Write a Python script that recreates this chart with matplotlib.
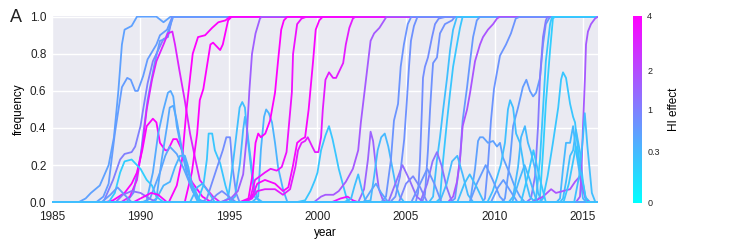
import numpy as np
import matplotlib
matplotlib.use("Agg")
import matplotlib.pyplot as plt
from matplotlib.colors import PowerNorm
from matplotlib.cm import ScalarMappable

plt.rcParams['font.family'] = ['Liberation Sans', 'DejaVu Sans']

# HI effect of each trajectory (colour)
hi_effect = [
    0.55, 0.6, 1.0, 0.6, 3.0, 4.0, 4.0, 4.0, 0.15, 0.45,
    0.45, 0.5, 0.35, 0.2, 0.8, 0.25, 0.3, 0.35, 1.6, 4.0,
    3.5, 3.8, 3.2, 0.2, 1.7, 3.5, 1.5, 0.3, 0.25, 0.7,
    0.75, 0.8, 0.75, 0.25, 0.2, 0.65, 1.8, 0.7, 0.55, 0.6,
    1.1, 0.2, 0.15, 0.25, 0.2, 0.3, 0.3, 0.25, 1.7, 1.8,
    # small bumps
    0.6, 1.2, 3.8, 0.3, 0.8, 1.3, 0.9, 1.2, 0.3, 0.7,
    0.6, 0.25, 0.6, 0.3, 0.2, 0.5, 0.2, 0.25,
]

# (year, frequency) points
trajectories = [
    [(1985, 0), (1986.5, 0), (1986.9, 0.02), (1987.2, 0.05), (1987.7, 0.09), (1988.2, 0.2), (1988.5, 0.35),
     (1988.75, 0.6), (1988.95, 0.85), (1989.1, 0.93), (1989.5, 0.95), (1989.8, 1.0), (1990.9, 1.0),
     (1991.3, 0.97), (1991.7, 1.0), (2016, 1.0)],
    [(1985, 0), (1987.5, 0), (1987.9, 0.03), (1988.2, 0.1), (1988.55, 0.37), (1988.95, 0.62), (1989.25, 0.67),
     (1989.45, 0.66), (1989.7, 0.6), (1989.85, 0.6), (1990.15, 0.68), (1990.4, 0.77), (1990.9, 0.85),
     (1991.1, 0.9), (1991.5, 0.93), (1991.8, 1.0), (2016, 1)],
    [(1985, 0), (1987.9, 0), (1988.45, 0.12), (1988.85, 0.23), (1989.1, 0.26), (1989.5, 0.27), (1989.7, 0.3),
     (1990.0, 0.41), (1990.15, 0.5), (1990.4, 0.64), (1990.7, 0.76), (1991.0, 0.82), (1991.3, 0.88),
     (1991.55, 0.89), (1991.8, 1.0), (2016, 1)],
    [(1985, 0), (1989.2, 0), (1989.6, 0.05), (1990.0, 0.25), (1990.4, 0.55), (1990.8, 0.75), (1991.1, 0.87),
     (1991.4, 0.88), (1991.6, 0.93), (1991.85, 1.0), (2016, 1)],
    [(1985, 0), (1988.9, 0), (1989.4, 0.03), (1989.8, 0.12), (1990.1, 0.3), (1990.35, 0.5), (1990.65, 0.66),
     (1990.9, 0.76), (1991.3, 0.85), (1991.55, 0.91), (1991.8, 0.92), (1991.95, 0.85), (1992.2, 0.71),
     (1992.5, 0.55), (1992.8, 0.37), (1993.1, 0.23), (1993.35, 0.12), (1993.75, 0.07), (1994.1, 0.03),
     (1994.5, 0), (2016, 0)],
    [(1985, 0), (1988.0, 0), (1988.45, 0.01), (1989.1, 0.05), (1989.5, 0.1), (1989.8, 0.16), (1990.1, 0.28),
     (1990.35, 0.41), (1990.7, 0.45), (1990.9, 0.43), (1991.1, 0.32), (1991.4, 0.28), (1991.55, 0.28),
     (1991.85, 0.34), (1992.05, 0.34), (1992.35, 0.28), (1992.6, 0.19), (1992.9, 0.11), (1993.2, 0.07),
     (1993.5, 0.03), (1994.0, 0), (2016, 0)],
    [(1985, 0), (1991.6, 0), (1992.05, 0.09), (1992.35, 0.23), (1992.6, 0.5), (1992.95, 0.8), (1993.25, 0.89),
     (1993.65, 0.9), (1994.05, 0.94), (1994.4, 0.97), (1994.8, 0.98), (1995.05, 1.0), (2016, 1)],
    [(1985, 0), (1992.5, 0), (1992.9, 0.16), (1993.2, 0.37), (1993.35, 0.55), (1993.55, 0.61), (1993.75, 0.73),
     (1993.95, 0.85), (1994.1, 0.86), (1994.5, 0.82), (1994.65, 0.85), (1994.95, 0.98), (1995.15, 1.0), (2016, 1)],
    [(1985, 0), (1988.2, 0), (1988.55, 0.05), (1988.85, 0.16), (1989.1, 0.22), (1989.5, 0.23), (1989.7, 0.21),
     (1990.0, 0.18), (1990.35, 0.12), (1990.65, 0.09), (1990.9, 0.03), (1991.3, 0), (2016, 0)],
    [(1985, 0), (1990.1, 0), (1990.35, 0.01), (1990.7, 0.16), (1991.0, 0.37), (1991.3, 0.5), (1991.55, 0.59),
     (1991.7, 0.6), (1991.85, 0.57), (1992.05, 0.41), (1992.35, 0.27), (1992.6, 0.16), (1992.9, 0.07),
     (1993.2, 0.01), (1993.6, 0), (2016, 0)],
    [(1985, 0), (1990.6, 0), (1990.9, 0.02), (1991.2, 0.23), (1991.5, 0.41), (1991.65, 0.51), (1991.85, 0.52),
     (1992.05, 0.44), (1992.35, 0.28), (1992.6, 0.19), (1992.95, 0.09), (1993.35, 0.01), (1993.7, 0), (2016, 0)],
    [(1985, 0), (1990.2, 0), (1990.54, 0.02), (1991.1, 0.16), (1991.4, 0.25), (1991.65, 0.3), (1992.05, 0.26),
     (1992.4, 0.19), (1992.7, 0.12), (1992.95, 0.06), (1993.3, 0.01), (1993.7, 0), (2016, 0)],
    [(1985, 0), (1990.8, 0), (1991.3, 0.09), (1991.67, 0.11), (1991.95, 0.19), (1992.23, 0.25), (1992.51, 0.25),
     (1992.7, 0.19), (1992.9, 0.09), (1993.2, 0.02), (1993.6, 0), (2016, 0)],
    [(1985, 0), (1993.2, 0), (1993.55, 0.09), (1993.75, 0.23), (1993.85, 0.37), (1994.05, 0.37), (1994.2, 0.28),
     (1994.5, 0.21), (1994.8, 0.09), (1995.05, 0.01), (1995.4, 0), (2016, 0)],
    [(1985, 0), (1993.5, 0), (1993.75, 0.02), (1994.3, 0.18), (1994.65, 0.28), (1994.85, 0.35), (1995.06, 0.35),
     (1995.2, 0.19), (1995.4, 0.05), (1995.6, 0), (2016, 0)],
    [(1985, 0), (1994.6, 0), (1994.95, 0.02), (1995.25, 0.23), (1995.4, 0.35), (1995.6, 0.51), (1995.75, 0.54),
     (1995.9, 0.51), (1996.05, 0.35), (1996.25, 0.18), (1996.45, 0.03), (1996.8, 0), (2016, 0)],
    [(1985, 0), (1995.0, 0), (1995.34, 0.03), (1995.62, 0.21), (1995.8, 0.39), (1995.9, 0.46), (1996.0, 0.41),
     (1996.2, 0.25), (1996.4, 0.1), (1996.6, 0.02), (1996.9, 0), (2016, 0)],
    [(1985, 0), (1996.3, 0), (1996.65, 0.03), (1996.8, 0.28), (1996.98, 0.46), (1997.1, 0.5), (1997.25, 0.48),
     (1997.43, 0.43), (1997.6, 0.32), (1997.77, 0.19), (1998.05, 0.07), (1998.3, 0), (2016, 0)],
    [(1985, 0), (1994.5, 0), (1995.1, 0.02), (1995.5, 0.06), (1995.8, 0.15), (1996.0, 0.35), (1996.15, 0.6),
     (1996.3, 0.8), (1996.5, 0.91), (1996.75, 0.99), (1996.85, 1.0), (2016, 1)],
    [(1985, 0), (1995.6, 0), (1996.1, 0.02), (1996.35, 0.16), (1996.5, 0.32), (1996.65, 0.37), (1996.8, 0.35),
     (1997.05, 0.37), (1997.32, 0.44), (1997.6, 0.59), (1997.77, 0.76), (1997.95, 0.93), (1998.1, 0.98),
     (1998.3, 1.0), (2016, 1)],
    [(1985, 0), (1995.8, 0), (1996.2, 0.02), (1996.47, 0.12), (1996.75, 0.14), (1997.03, 0.16), (1997.35, 0.18),
     (1997.7, 0.17), (1997.98, 0.19), (1998.25, 0.27), (1998.55, 0.59), (1998.62, 0.8), (1998.85, 0.96),
     (1999.1, 0.99), (1999.4, 1.0), (2016, 1)],
    [(1985, 0), (1995.9, 0), (1996.3, 0.03), (1996.6, 0.1), (1997.03, 0.12), (1997.6, 0.1), (1998.05, 0.06),
     (1998.35, 0.08), (1998.6, 0.19), (1998.85, 0.32), (1999.1, 0.34), (1999.3, 0.35), (1999.5, 0.5),
     (1999.75, 0.76), (1999.9, 0.93), (2000.1, 0.98), (2000.3, 1.0), (2016, 1)],
    [(1985, 0), (1995.9, 0), (1996.3, 0.02), (1996.6, 0.06), (1997.03, 0.07), (1997.6, 0.07), (1998.05, 0.04),
     (1998.45, 0.07), (1998.75, 0.19), (1998.9, 0.28), (1999.1, 0.32), (1999.3, 0.33), (1999.45, 0.35),
     (1999.7, 0.3), (1999.86, 0.27), (2000.05, 0.27), (2000.2, 0.35), (2000.3, 0.5), (2000.45, 0.66),
     (2000.65, 0.7), (2000.88, 0.67), (2001.05, 0.67), (2001.2, 0.7), (2001.45, 0.75), (2001.6, 0.85),
     (2001.8, 0.94), (2002.0, 0.99), (2002.15, 1.0), (2016, 1)],
    [(1985, 0), (1998.8, 0), (1999.3, 0.01), (1999.6, 0.06), (1999.86, 0.12), (2000.0, 0.16), (2000.2, 0.28),
     (2000.45, 0.36), (2000.65, 0.41), (2000.85, 0.34), (2001.05, 0.25), (2001.2, 0.18), (2001.45, 0.09),
     (2001.65, 0.02), (2001.85, 0), (2016, 0)],
    [(1985, 0), (1999.8, 0), (2000.2, 0.03), (2000.45, 0.04), (2000.9, 0.04), (2001.2, 0.06), (2001.6, 0.11),
     (2002.0, 0.18), (2002.3, 0.28), (2002.45, 0.43), (2002.65, 0.59), (2002.85, 0.75), (2003.0, 0.87),
     (2003.2, 0.91), (2003.5, 0.94), (2003.7, 0.97), (2003.9, 1.0), (2016, 1)],
    [(1985, 0), (2000.8, 0), (2001.3, 0.02), (2001.7, 0.03), (2002.0, 0.01), (2002.3, 0), (2016, 0)],
    [(1985, 0), (2002.3, 0), (2002.63, 0.07), (2002.85, 0.23), (2003.0, 0.38), (2003.14, 0.33), (2003.3, 0.19),
     (2003.47, 0.07), (2003.7, 0.01), (2004.0, 0), (2016, 0)],
    [(1985, 0), (2002.6, 0), (2003.0, 0.01), (2003.2, 0.14), (2003.4, 0.28), (2003.6, 0.35), (2003.8, 0.37),
     (2004.0, 0.3), (2004.2, 0.2), (2004.4, 0.1), (2004.65, 0.03), (2004.9, 0), (2016, 0)],
    [(1985, 0), (2001.5, 0), (2001.9, 0.02), (2002.1, 0.09), (2002.3, 0.15), (2002.5, 0.07), (2002.7, 0.01),
     (2003.0, 0), (2016, 0)],
    [(1985, 0), (2003.6, 0), (2003.87, 0.03), (2004.15, 0.23), (2004.32, 0.44), (2004.55, 0.53), (2004.7, 0.73),
     (2004.88, 0.85), (2005.1, 0.96), (2005.3, 1.0), (2016, 1)],
    [(1985, 0), (2004.1, 0), (2004.4, 0.03), (2004.66, 0.14), (2004.9, 0.34), (2005.05, 0.55), (2005.17, 0.73),
     (2005.28, 0.87), (2005.45, 0.95), (2005.65, 1.0), (2016, 1)],
    [(1985, 0), (2005.55, 0), (2005.68, 0.05), (2005.79, 0.23), (2005.9, 0.5), (2005.96, 0.67), (2006.07, 0.73),
     (2006.24, 0.78), (2006.47, 0.89), (2006.64, 0.96), (2006.85, 0.99), (2007.3, 1.0), (2016, 1)],
    [(1985, 0), (2005.9, 0), (2006.07, 0.04), (2006.24, 0.28), (2006.36, 0.5), (2006.47, 0.67), (2006.53, 0.75),
     (2006.75, 0.78), (2006.92, 0.91), (2007.2, 0.96), (2007.6, 0.98), (2007.77, 1.0), (2016, 1)],
    [(1985, 0), (2006.3, 0), (2006.53, 0.03), (2006.75, 0.23), (2006.92, 0.35), (2007.1, 0.5), (2007.32, 0.67),
     (2007.49, 0.82), (2007.66, 0.93), (2007.88, 1.0), (2016, 1)],
    [(1985, 0), (2006.7, 0), (2006.92, 0.02), (2007.1, 0.23), (2007.32, 0.44), (2007.49, 0.59), (2007.66, 0.73),
     (2007.88, 0.85), (2008.05, 0.94), (2008.2, 1.0), (2016, 1)],
    [(1985, 0), (2007.5, 0), (2007.77, 0.02), (2008.05, 0.23), (2008.2, 0.44), (2008.45, 0.62), (2008.62, 0.76),
     (2008.79, 0.89), (2009.0, 0.98), (2009.18, 1.0), (2016, 1)],
    [(1985, 0), (2007.37, 0), (2007.66, 0.03), (2007.88, 0.11), (2008.05, 0.23), (2008.2, 0.41), (2008.45, 0.5),
     (2008.62, 0.59), (2008.9, 0.76), (2009.18, 0.85), (2009.35, 0.89), (2009.63, 0.93), (2009.92, 0.96),
     (2010.14, 0.99), (2010.31, 1.0), (2016, 1)],
    [(1985, 0), (2009.3, 0), (2009.46, 0.02), (2009.63, 0.2), (2009.8, 0.44), (2009.97, 0.61), (2010.31, 0.79),
     (2010.65, 0.85), (2010.93, 0.91), (2011.2, 0.99), (2011.44, 1.0), (2016, 1)],
    [(1985, 0), (2008.62, 0), (2008.9, 0.18), (2009.07, 0.33), (2009.18, 0.35), (2009.35, 0.35), (2009.63, 0.32),
     (2009.92, 0.33), (2010.14, 0.3), (2010.31, 0.32), (2010.48, 0.24), (2010.7, 0.19), (2010.88, 0.15),
     (2011.16, 0.08), (2011.44, 0.03), (2011.72, 0), (2016, 0)],
    [(1985, 0), (2010.4, 0), (2010.59, 0.02), (2010.88, 0.23), (2011.05, 0.41), (2011.33, 0.51), (2011.6, 0.62),
     (2011.8, 0.66), (2012.0, 0.6), (2012.18, 0.57), (2012.35, 0.59), (2012.57, 0.67), (2012.74, 0.85),
     (2012.9, 0.96), (2013.14, 1.0), (2016, 1)],
    [(1985, 0), (2011.8, 0), (2012.06, 0.02), (2012.29, 0.14), (2012.46, 0.41), (2012.57, 0.67), (2012.74, 0.89),
     (2012.9, 0.98), (2013.0, 1.0), (2016, 1)],
    [(1985, 0), (2012.1, 0), (2012.35, 0.02), (2012.57, 0.23), (2012.74, 0.5), (2012.9, 0.76), (2013.14, 0.96),
     (2013.25, 1.0), (2016, 1)],
    [(1985, 0), (2012.35, 0), (2012.57, 0.03), (2012.74, 0.27), (2012.9, 0.53), (2013.14, 0.82), (2013.3, 0.99),
     (2013.42, 1.0), (2016, 1)],
    [(1985, 0), (2009.6, 0), (2009.9, 0.06), (2010.1, 0.12), (2010.35, 0.2), (2010.59, 0.32), (2010.76, 0.5),
     (2010.88, 0.55), (2011.05, 0.51), (2011.22, 0.37), (2011.44, 0.32), (2011.6, 0.23), (2011.78, 0.11),
     (2012.0, 0.03), (2012.3, 0), (2016, 0)],
    [(1985, 0), (2012.5, 0), (2012.74, 0.02), (2013.0, 0.14), (2013.3, 0.32), (2013.6, 0.51), (2013.76, 0.66),
     (2013.87, 0.7), (2014.04, 0.67), (2014.27, 0.53), (2014.44, 0.46), (2014.55, 0.43), (2014.72, 0.28),
     (2014.9, 0.14), (2015.11, 0.03), (2015.4, 0), (2016, 0)],
    [(1985, 0), (2010.8, 0), (2011.05, 0.03), (2011.33, 0.19), (2011.5, 0.35), (2011.72, 0.41), (2011.89, 0.32),
     (2012.06, 0.27), (2012.29, 0.18), (2012.46, 0.05), (2012.7, 0), (2016, 0)],
    [(1985, 0), (2013.5, 0), (2013.7, 0.02), (2013.87, 0.18), (2014.04, 0.32), (2014.27, 0.32), (2014.44, 0.41),
     (2014.6, 0.28), (2014.83, 0.14), (2015.0, 0.02), (2015.17, 0), (2016, 0)],
    [(1985, 0), (2013.7, 0), (2013.87, 0.02), (2014.04, 0.11), (2014.27, 0.25), (2014.44, 0.28), (2014.6, 0.39),
     (2014.83, 0.27), (2015.0, 0.11), (2015.17, 0.01), (2015.4, 0), (2016, 0)],
    [(1985, 0), (2014.6, 0), (2014.83, 0.03), (2014.9, 0.14), (2015.0, 0.41), (2015.11, 0.67), (2015.17, 0.85),
     (2015.28, 0.92), (2015.45, 0.96), (2015.68, 0.99), (2015.85, 1.0), (2016, 1)],
    [(1985, 0), (2012.1, 0), (2012.35, 0.01), (2012.74, 0.03), (2013.2, 0.07), (2013.47, 0.05), (2013.87, 0.06),
     (2014.27, 0.07), (2014.55, 0.11), (2014.83, 0.14), (2015.0, 0.07), (2015.17, 0.01), (2015.4, 0), (2016, 0)],
    # small bumps near the bottom
    [(1985, 0), (1987.8, 0), (1988.3, 0.04), (1988.7, 0.08), (1989.1, 0.04), (1989.5, 0), (2016, 0)],
    [(1985, 0), (1988.6, 0), (1989.0, 0.04), (1989.5, 0.06), (1990.0, 0.05), (1990.5, 0.02), (1990.9, 0), (2016, 0)],
    [(1985, 0), (1989.6, 0), (1990.2, 0.03), (1990.6, 0.05), (1991.0, 0.04), (1991.5, 0), (2016, 0)],
    [(1985, 0), (1992.8, 0), (1993.2, 0.08), (1993.5, 0.1), (1993.8, 0.06), (1994.2, 0), (2016, 0)],
    [(1985, 0), (1993.9, 0), (1994.3, 0.04), (1994.6, 0.06), (1995.0, 0.03), (1995.4, 0), (2016, 0)],
    [(1985, 0), (2004.0, 0), (2004.4, 0.1), (2004.8, 0.2), (2005.2, 0.12), (2005.6, 0.03), (2006.0, 0), (2016, 0)],
    [(1985, 0), (2004.6, 0), (2005.0, 0.1), (2005.4, 0.14), (2005.8, 0.08), (2006.2, 0), (2016, 0)],
    [(1985, 0), (2005.8, 0), (2006.2, 0.1), (2006.5, 0.22), (2006.75, 0.27), (2007.0, 0.2), (2007.3, 0.08),
     (2007.6, 0), (2016, 0)],
    [(1985, 0), (2006.9, 0), (2007.3, 0.1), (2007.6, 0.22), (2007.9, 0.25), (2008.2, 0.15), (2008.5, 0.04),
     (2008.8, 0), (2016, 0)],
    [(1985, 0), (2005.3, 0), (2005.8, 0.1), (2006.2, 0.18), (2006.6, 0.1), (2007.0, 0), (2016, 0)],
    [(1985, 0), (2008.6, 0), (2009.0, 0.1), (2009.5, 0.2), (2009.9, 0.12), (2010.3, 0.03), (2010.6, 0), (2016, 0)],
    [(1985, 0), (2007.9, 0), (2008.3, 0.1), (2008.6, 0.15), (2009.0, 0.08), (2009.4, 0), (2016, 0)],
    [(1985, 0), (2009.8, 0), (2010.2, 0.08), (2010.5, 0.12), (2010.9, 0.06), (2011.3, 0), (2016, 0)],
    [(1985, 0), (2011.0, 0), (2011.4, 0.12), (2011.7, 0.2), (2012.0, 0.12), (2012.4, 0), (2016, 0)],
    [(1985, 0), (2011.5, 0), (2011.9, 0.15), (2012.2, 0.28), (2012.5, 0.15), (2012.9, 0), (2016, 0)],
    [(1985, 0), (2002.6, 0), (2003.0, 0.06), (2003.3, 0.1), (2003.6, 0.05), (2004.0, 0), (2016, 0)],
    [(1985, 0), (2013.9, 0), (2014.2, 0.1), (2014.6, 0.3), (2014.9, 0.15), (2015.2, 0), (2016, 0)],
    [(1985, 0), (2014.5, 0), (2014.8, 0.15), (2015.0, 0.35), (2015.1, 0.48), (2015.25, 0.3), (2015.5, 0.05),
     (2015.7, 0), (2016, 0)],
]

year_ticks = [1985, 1990, 1995, 2000, 2005, 2010, 2015]
freq_ticks = [0.0, 0.2, 0.4, 0.6, 0.8, 1.0]
hi_ticks = [0, 0.3, 1, 2, 4]

cmap = plt.get_cmap('cool')
norm = PowerNorm(gamma=0.5, vmin=0, vmax=4)

fig = plt.figure(figsize=(7.47, 2.49), dpi=100)
ax = fig.add_axes([0.0696, 0.185, 0.731, 0.751])
ax.set_facecolor('#EAEAF2')
for s in ax.spines.values():
    s.set_visible(False)
ax.grid(True, color='white', linewidth=1.0)
ax.set_axisbelow(True)

for traj, hi in zip(trajectories, hi_effect):
    yrs = [p[0] for p in traj]
    frq = [p[1] for p in traj]
    ax.plot(yrs, frq, color=cmap(norm(hi)), linewidth=1.3, solid_joinstyle='round')

ax.set_xlim(1985, 2015.85)
ax.set_ylim(-0.004, 1.004)
ax.set_xticks(year_ticks)
ax.set_yticks(freq_ticks)
ax.set_yticklabels(['%.1f' % v for v in freq_ticks])
ax.tick_params(length=0, labelsize=8.5, colors='#222222', pad=4)
ax.tick_params(axis='x', pad=6)
ax.set_xlabel('year', fontsize=8.5, labelpad=3)
ax.set_ylabel('frequency', fontsize=8.5, labelpad=4)
fig.text(0.013, 0.91, 'A', fontsize=13, color='#222222')

cax = fig.add_axes([0.847, 0.185, 0.012, 0.751])
sm = ScalarMappable(norm=norm, cmap=cmap)
cb = fig.colorbar(sm, cax=cax, ticks=hi_ticks)
cb.outline.set_visible(False)
cb.ax.set_yticklabels(['0', '0.3', '1', '2', '4'])
cb.ax.tick_params(length=0, labelsize=6.5, colors='#222222', pad=4)
cb.set_label('HI effect', fontsize=8.5, labelpad=6)

fig.savefig('out.png', dpi=100)
